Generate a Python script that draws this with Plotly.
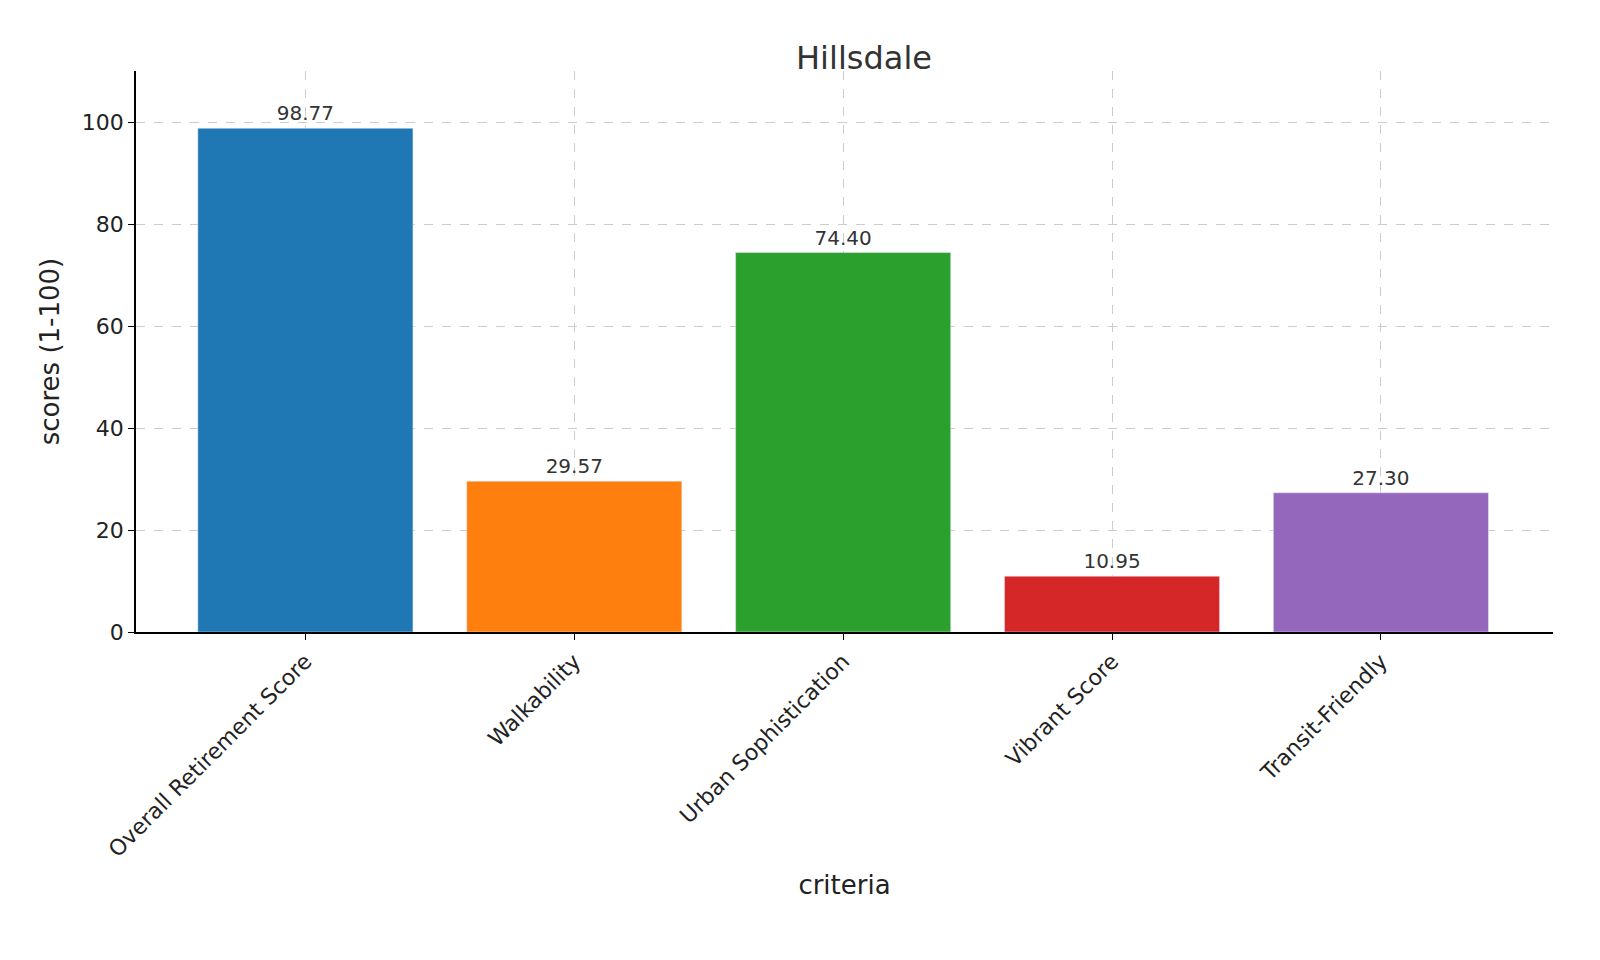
import plotly.graph_objects as go

criteria = ["Overall Retirement Score", "Walkability", "Urban Sophistication", "Vibrant Score", "Transit-Friendly"]
scores = [98.77, 29.57, 74.40, 10.95, 27.30]
colors = ["#1f77b4", "#ff7f0e", "#2ca02c", "#d62728", "#9467bd"]

fig = go.Figure()
fig.add_trace(go.Bar(
    x=criteria, y=scores, marker_color=colors, width=0.8,
    text=[f"{v:.2f}" for v in scores], textposition="outside",
    textfont=dict(size=20, color="#333333"), cliponaxis=False,
))
fig.update_layout(
    width=1600, height=960, plot_bgcolor="white", paper_bgcolor="white",
    font=dict(family="DejaVu Sans", size=22, color="#222222"),
    title=dict(text="Hillsdale", x=0.535, xanchor="center", y=0.96, font=dict(size=32, color="#333333")),
    margin=dict(l=128, r=55, t=63, b=336),
    showlegend=False,
)
fig.update_xaxes(
    title_text="criteria", tickangle=-45, range=[-0.63, 4.64],
    showline=True, linecolor="black", linewidth=1.5,
    showgrid=True, gridcolor="#cccccc", griddash="dash",
    ticks="outside", ticklen=6, tickcolor="black",
)
fig.update_yaxes(
    title_text="scores (1-100)", range=[0, 110], tickvals=[0, 20, 40, 60, 80, 100],
    showline=True, linecolor="black", linewidth=1.5,
    showgrid=True, gridcolor="#cccccc", griddash="dash", zeroline=False,
    ticks="outside", ticklen=6, tickcolor="black",
)
fig.write_html("out.html")
